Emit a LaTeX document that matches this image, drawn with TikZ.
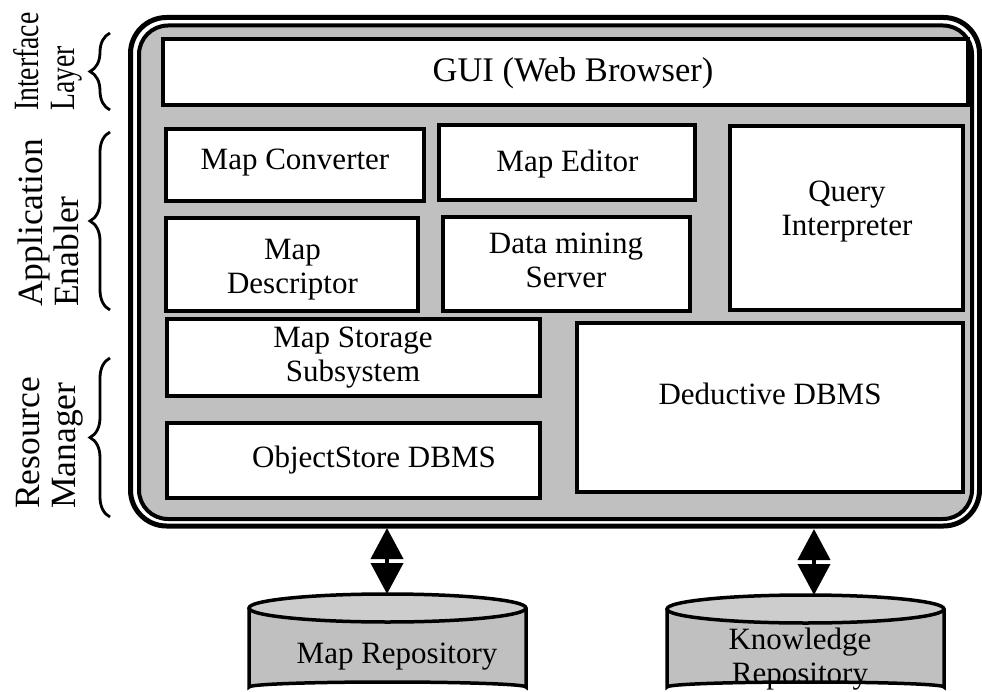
\documentclass[tikz,border=0pt]{standalone}
\usepackage{fontspec}
\usepackage{graphicx}
\setmainfont{Liberation Serif}
\usetikzlibrary{arrows.meta,decorations.pathreplacing}
\definecolor{fillgray}{HTML}{C0C0C0}
\definecolor{topgray}{HTML}{CDCDCD}
\begin{document}
\begin{tikzpicture}[x=1pt,y=-1pt,
  box/.style={draw=black,line width=4pt,fill=white,rectangle,inner sep=0pt},
  txt/.style={font=\fontsize{31}{34}\selectfont,align=center,inner sep=0pt},
  side/.style={font=\fontsize{35.5}{36}\selectfont,align=left,rotate=90,inner sep=0pt,anchor=west},
  brc/.style={decorate,decoration={brace,amplitude=20pt},line width=2.8pt},
  dbl/.style={line width=4pt,{Triangle[width=32pt,length=31pt]}-{Triangle[width=32pt,length=31pt]}},
  cyl/.style={line width=3.5pt,draw=black},
]
\useasboundingbox (0,0) rectangle (982,692);
\clip (0,0) rectangle (982,692);

% outer double frame
\draw[line width=5pt,rounded corners=36pt] (130.5,17.5) rectangle (979.5,526);
\draw[line width=4pt,fill=fillgray,rounded corners=29pt] (139,25.5) rectangle (972,519);

% boxes
\node[box,minimum width=805pt,minimum height=66pt] (gui) at (565.5,72) {};
\node[box,minimum width=258pt,minimum height=72pt] (conv) at (295,165) {};
\node[box,minimum width=256pt,minimum height=75pt] (edit) at (567,162.5) {};
\node[box,minimum width=233pt,minimum height=184pt] (query) at (846.5,218) {};
\node[box,minimum width=252pt,minimum height=93pt] (desc) at (292,264.5) {};
\node[box,minimum width=247pt,minimum height=94pt] (mine) at (566.5,264) {};
\node[box,minimum width=373pt,minimum height=77pt] (store) at (353.5,357.5) {};
\node[box,minimum width=373pt,minimum height=75pt] (ostore) at (353.5,460.5) {};
\node[box,minimum width=386pt,minimum height=169pt] (ded) at (770,407.5) {};

% texts
\node[txt,font=\fontsize{34.5}{36}\selectfont] (guit) at (573,73) {GUI (Web Browser)};
\node[txt] (convt) at (295,163) {Map Converter};
\node[txt] (editt) at (567.5,164) {Map Editor};
\node[txt] (desct) at (292.5,270) {Map\\Descriptor};
\node[txt] (minet) at (566,260) {Data mining\\Server};
\node[txt] (queryt) at (847,212) {Query\\Interpreter};
\node[txt] (storet) at (353,358) {Map Storage\\Subsystem};
\node[txt] (ostoret) at (374,460) {ObjectStore DBMS};
\node[txt] (dedt) at (770,394) {Deductive DBMS};

% side labels
\node[side] (ilay) at (48,111) {\scalebox{0.78}[1]{Interface}\\\scalebox{0.78}[1]{Layer}};
\node[side] (aena) at (48,307) {Application\\Enabler};
\node[side] (rman) at (50,509) {Resource\\Manager};

% braces
\draw[brc] (110,110) -- (110,33);
\draw[brc] (110,310) -- (110,132);
\draw[brc] (110,517) -- (110,358);

% cylinders
\draw[cyl,fill=fillgray] (249,608) -- (249,687) arc (180:360:138.5 and 5) -- (526,608);
\draw[cyl,fill=topgray] (387.5,608) ellipse (138.5 and 14);
\draw[cyl,fill=fillgray] (667,609) -- (667,687) arc (180:360:138.5 and 5) -- (944,609);
\draw[cyl,fill=topgray] (805.5,609) ellipse (138.5 and 14);
\coordinate (mrtop) at (387,594);
\coordinate (krtop) at (814,595);
\node[txt] (mrt) at (397,657) {Map Repository};
\node[txt] (krt) at (800,659) {Knowledge\\Repository};

% arrows
\coordinate (fb1) at (387,528);
\coordinate (fb2) at (814,529);
\draw[dbl] (fb1) -- (mrtop);
\draw[dbl] (fb2) -- (krtop);
\end{tikzpicture}
\end{document}
